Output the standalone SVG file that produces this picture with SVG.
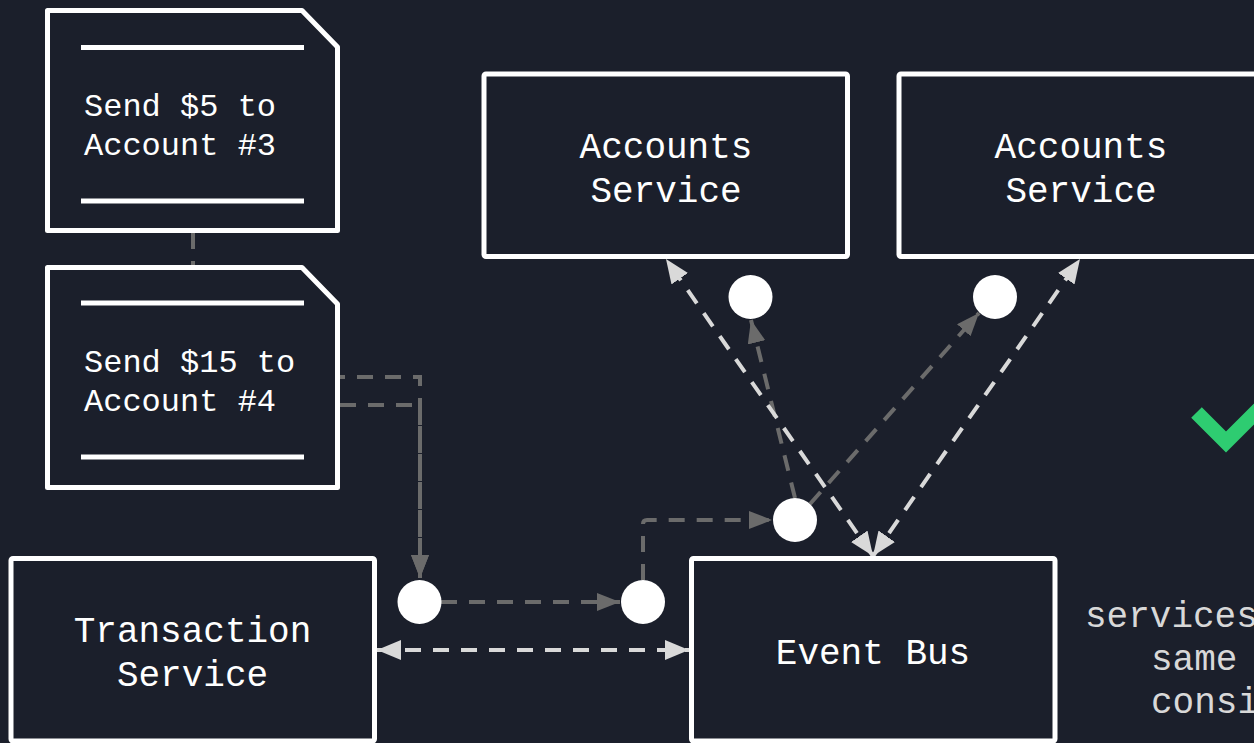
<svg xmlns="http://www.w3.org/2000/svg" width="1254" height="743" viewBox="0 0 1254 743">
  <defs>
    <style>
      .box { fill: #1b1f2b; stroke: #ffffff; stroke-width: 5; stroke-linejoin: round; }
      .rule { stroke: #ffffff; stroke-width: 5; }
      .lbl { font-family: "Liberation Mono", "DejaVu Sans Mono", monospace; fill: #ffffff; font-size: 36px; }
      .doc { font-family: "Liberation Mono", "DejaVu Sans Mono", monospace; fill: #ffffff; font-size: 32px; }
      .note { font-family: "Liberation Mono", "DejaVu Sans Mono", monospace; fill: #d8d8d8; font-size: 36px; }
      .gray { fill: none; stroke: #6b6b6b; stroke-width: 4; stroke-dasharray: 16 12; }
      .light { fill: none; stroke: #d9d9d9; stroke-width: 4; stroke-dasharray: 16 12; }
      .dot { fill: #ffffff; }
    </style>
    <marker id="arrGray" markerUnits="userSpaceOnUse" markerWidth="24" markerHeight="20" refX="23" refY="9" orient="auto">
      <path d="M0,0 L23,9 L0,18 z" fill="#6b6b6b"/>
    </marker>
    <marker id="arrLight" markerUnits="userSpaceOnUse" markerWidth="25" markerHeight="21" refX="24" refY="10" orient="auto-start-reverse">
      <path d="M0,0 L24,10 L0,20 z" fill="#d9d9d9"/>
    </marker>
  </defs>

  <rect width="1254" height="743" fill="#1b1f2b"/>

  <!-- connectors -->
  <g id="connectors">
    <path class="gray" d="M193,233 V377 H420 V578" marker-end="url(#arrGray)"/>
    <path class="gray" d="M340,405 H420 V578" marker-end="url(#arrGray)"/>
    <path class="gray" d="M441,602 H620" marker-end="url(#arrGray)"/>
    <path class="gray" d="M643,580 V524 Q643,520 647,520 H772" marker-end="url(#arrGray)"/>
    <path class="gray" d="M795,498 L751,320" marker-end="url(#arrGray)"/>
    <path class="gray" d="M810,504 L979,313" marker-end="url(#arrGray)"/>
    <path class="light" d="M873,556 L666,259" marker-start="url(#arrLight)" marker-end="url(#arrLight)"/>
    <path class="light" d="M873,556 L1080,259" marker-start="url(#arrLight)" marker-end="url(#arrLight)"/>
    <path class="light" d="M377,650 L689,650" marker-start="url(#arrLight)" marker-end="url(#arrLight)"/>
  </g>

  <!-- transfer request documents -->
  <g id="doc-send-5">
    <path class="box" d="M47.5,10.5 H302 L337.5,47 V230.5 H47.5 Z"/>
    <line class="rule" x1="81" y1="47.5" x2="304" y2="47.5"/>
    <line class="rule" x1="81" y1="201" x2="304" y2="201"/>
    <text class="doc" x="84" y="116">Send $5 to</text>
    <text class="doc" x="84" y="155">Account #3</text>
  </g>
  <g id="doc-send-15">
    <path class="box" d="M47.5,267.5 H302 L337.5,304 V487.5 H47.5 Z"/>
    <line class="rule" x1="81" y1="303" x2="304" y2="303"/>
    <line class="rule" x1="81" y1="457" x2="304" y2="457"/>
    <text class="doc" x="84" y="372">Send $15 to</text>
    <text class="doc" x="84" y="411">Account #4</text>
  </g>

  <!-- services -->
  <g id="accounts-service-1">
    <rect class="box" x="484" y="74" width="363.5" height="182.5" rx="2"/>
    <text class="lbl" x="666" y="158" text-anchor="middle">Accounts</text>
    <text class="lbl" x="666" y="202" text-anchor="middle">Service</text>
  </g>
  <g id="accounts-service-2">
    <rect class="box" x="899" y="74" width="363.5" height="182.5" rx="2"/>
    <text class="lbl" x="1081" y="158" text-anchor="middle">Accounts</text>
    <text class="lbl" x="1081" y="202" text-anchor="middle">Service</text>
  </g>
  <g id="transaction-service">
    <rect class="box" x="11" y="558.5" width="363.5" height="182.5" rx="2"/>
    <text class="lbl" x="192.5" y="642" text-anchor="middle">Transaction</text>
    <text class="lbl" x="192.5" y="686" text-anchor="middle">Service</text>
  </g>
  <g id="event-bus">
    <rect class="box" x="691.5" y="558.5" width="363.5" height="182.5" rx="2"/>
    <text class="lbl" x="873" y="664" text-anchor="middle">Event Bus</text>
  </g>

  <!-- event tokens -->
  <g id="tokens">
    <circle class="dot" cx="750.5" cy="297" r="22"/>
    <circle class="dot" cx="995" cy="297" r="22"/>
    <circle class="dot" cx="795" cy="520" r="22"/>
    <circle class="dot" cx="419.5" cy="602" r="22"/>
    <circle class="dot" cx="643" cy="602" r="22"/>
  </g>

  <!-- outcome -->
  <g id="check">
    <polyline points="1196.5,412.5 1226,442 1272,396" fill="none" stroke="#2ecc71" stroke-width="15" stroke-linejoin="miter"/>
  </g>
  <g id="note">
    <text class="note" x="1085" y="627">services</text>
    <text class="note" x="1151" y="670">same</text>
    <text class="note" x="1151" y="713">consi</text>
  </g>
</svg>
